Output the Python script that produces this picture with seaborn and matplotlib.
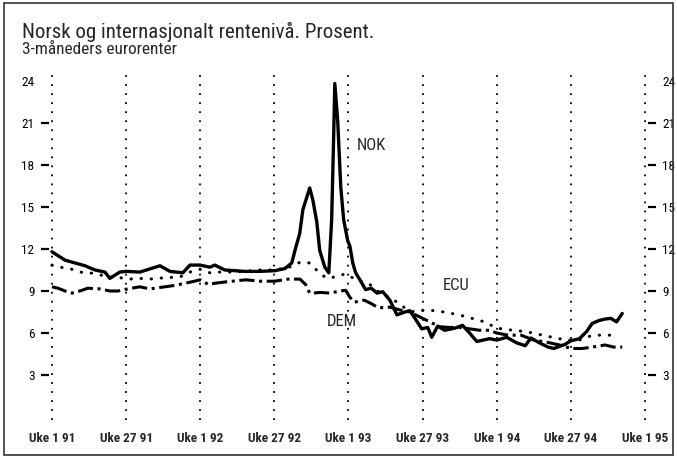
import matplotlib
matplotlib.use("Agg")
import matplotlib.pyplot as plt
import seaborn as sns
from matplotlib.patches import Rectangle

# uke-indeks fra Uke 1 91 (0) til Uke 1 95 (208)
nok_week = [0, 4.6, 8.1, 11.6, 15.1, 18.6, 20.3, 23.8, 25.9, 30.8, 37.9, 41.4, 45.9, 48.4, 51.9,
            55.4, 57.1, 60.6, 67.6, 72.9, 78.2, 81.7, 84.1, 85.5, 86.9, 88.0, 89.4, 90.4, 91.5,
            92.9, 93.9, 95.7, 97.1, 98.1, 98.8, 99.2, 100.2, 101.3, 102.3, 103.7, 104.5, 105.5,
            106.5, 108, 110, 112, 114, 116, 118.5, 121, 123.7, 125.5, 127, 129.7, 131.8, 133.2,
            135.3, 137.7, 141.3, 144, 146.5, 149, 153.5, 156, 159.5, 163, 166, 168, 171, 174,
            176, 180, 182, 185, 187.5, 189.5, 192, 194, 196, 198, 200]
nok_val = [11.8, 11.2, 11.0, 10.8, 10.5, 10.35, 9.9, 10.35, 10.4, 10.35, 10.8, 10.4, 10.3, 10.85,
           10.85, 10.7, 10.85, 10.5, 10.4, 10.4, 10.45, 10.6, 11.0, 12.1, 13.1, 14.8, 15.7, 16.35,
           15.5, 13.9, 11.9, 10.7, 10.3, 14.1, 20.0, 23.8, 21.2, 16.4, 14.1, 12.6, 12.2, 11.0,
           10.3, 9.8, 9.1, 9.2, 8.85, 8.95, 8.35, 7.3, 7.5, 7.6, 7.15, 6.3, 6.4, 5.7, 6.5, 6.2,
           6.35, 6.55, 6.0, 5.4, 5.6, 5.5, 5.7, 5.3, 5.1, 5.65, 5.3, 5.0, 4.9, 5.2, 5.45, 5.6,
           6.1, 6.7, 6.9, 7.0, 7.05, 6.8, 7.4]

dem_week = [0, 2.1, 4.6, 7, 9.8, 12.6, 16.8, 20.3, 23.1, 26.6, 30.8, 34.3, 39.6, 43.1, 46.6,
            50, 52, 55, 57, 61, 68, 73, 78, 83, 87, 89, 90.4, 91.5, 94, 97.5, 101, 103, 104.5,
            106, 109.5, 112, 114.5, 118.5, 122, 125.5, 129, 132.5, 136, 139.5, 143, 146.5, 150,
            153.5, 156, 160, 164.5, 169, 173.5, 178, 182, 186, 189.5, 194, 197, 200]
dem_val = [9.3, 9.2, 9.0, 8.85, 9.0, 9.2, 9.15, 9.0, 9.0, 9.15, 9.3, 9.15, 9.3, 9.4, 9.55,
           9.7, 9.8, 9.45, 9.55, 9.65, 9.8, 9.7, 9.7, 9.85, 9.85, 9.45, 8.85, 8.85, 8.9, 8.85,
           9.0, 9.05, 8.55, 8.2, 8.35, 8.1, 7.8, 7.85, 7.65, 7.5, 7.15, 6.8, 6.45, 6.4, 6.4,
           6.3, 6.2, 6.2, 6.0, 5.85, 5.85, 5.5, 5.35, 5.15, 4.9, 4.9, 5.0, 5.15, 5.0, 5.0]

ecu_week = [0, 2.8, 6.3, 9.8, 13.3, 16.8, 20.3, 23.8, 27.3, 30.8, 34.3, 39.6, 44.9, 48.4, 51.9,
            55.4, 57, 62.4, 67.6, 72.9, 78.2, 83.3, 87, 90.4, 92.2, 94, 95.7, 97.5, 101, 103.5,
            105, 106.5, 111, 114.5, 120, 123.7, 127, 130.7, 134, 137.7, 141.3, 144.7, 148.2,
            151.7, 156, 161.6, 166.4, 172, 175.5, 180.4, 185, 189.6, 193.2, 197]
ecu_val = [10.85, 10.7, 10.6, 10.35, 10.3, 10.15, 10.0, 9.95, 9.85, 9.9, 9.85, 9.95, 10.0, 10.35,
           10.55, 10.3, 10.35, 10.35, 10.4, 10.5, 10.5, 10.7, 11.05, 11.0, 10.6, 10.3, 10.0, 9.9,
           10.15, 10.2, 10.0, 9.8, 9.55, 8.95, 8.35, 7.8, 7.5, 7.65, 7.6, 7.5, 7.35, 7.2, 7.0,
           6.8, 6.35, 6.2, 6.1, 5.85, 5.7, 5.5, 5.5, 5.85, 5.85, 5.85]

tick_weeks = [0, 26, 52, 78, 104, 130, 156, 182, 208]
tick_labels = ["Uke 1 91", "Uke 27 91", "Uke 1 92", "Uke 27 92", "Uke 1 93",
               "Uke 27 93", "Uke 1 94", "Uke 27 94", "Uke 1 95"]
y_ticks = [3, 6, 9, 12, 15, 18, 21, 24]

sns.set_theme(style="white")
fam = ["Roboto Condensed", "Liberation Sans Narrow", "Liberation Sans", "DejaVu Sans"]
plt.rcParams["font.family"] = fam
plt.rcParams.update({
    "ytick.left": True, "ytick.right": True,
    "ytick.labelleft": True, "ytick.labelright": True,
    "ytick.major.size": 5.5, "ytick.major.width": 1.6,
    "ytick.major.pad": 5, "ytick.color": "black", "ytick.direction": "out",
    "xtick.bottom": False, "xtick.major.size": 0, "xtick.major.pad": 9,
})

fig = plt.figure(figsize=(6.77, 4.58), dpi=100)
ax = fig.add_axes([0.0725, 0.083, 0.8845, 0.753])

sns.lineplot(x=nok_week, y=nok_val, ax=ax, color="black", lw=2.4, sort=False)
sns.lineplot(x=dem_week, y=dem_val, ax=ax, color="black", lw=2.2, sort=False,
             linestyle=(0, (5, 1.5, 1, 1.5)))
sns.lineplot(x=ecu_week, y=ecu_val, ax=ax, color="black", lw=2.2, sort=False,
             linestyle=(0, (0.1, 3.2)), dash_capstyle="round")

ax.set_xlim(-1, 209)
ax.set_ylim(-0.2, 24.4)
ax.set_xticks(tick_weeks)
ax.set_xticklabels(tick_labels, fontweight="bold", fontsize=9.5)
ax.set_yticks(y_ticks)
ax.set_yticklabels([str(v) for v in y_ticks], fontsize=9.5)
ax.grid(axis="x", color="black", linestyle=(0, (1, 4)), lw=1.3)
ax.grid(axis="y", visible=False)
for s in ax.spines.values():
    s.set_visible(False)
ax.set_xlabel("")
ax.set_ylabel("")

# ingen tickstrek ved 24
for t in ax.yaxis.get_major_ticks():
    if t.get_loc() == 24:
        t.tick1line.set_visible(False)
        t.tick2line.set_visible(False)

ax.text(106.9, 19.4, "NOK", fontsize=12, va="center", ha="left")
ax.text(137, 9.4, "ECU", fontsize=12, va="center", ha="left")
ax.text(96.4, 6.8, "DEM", fontsize=12, va="center", ha="left")

fig.text(22 / 677, 1 - 38 / 458, "Norsk og internasjonalt rentenivå. Prosent.",
         fontsize=15, va="baseline", ha="left")
fig.text(22 / 677, 1 - 54 / 458, "3-måneders eurorenter", fontsize=12.4, va="baseline", ha="left")

fig.patches.append(Rectangle((4 / 677, 3 / 458), 669 / 677, 452 / 458, transform=fig.transFigure,
                             fill=False, lw=1.2, ec="#333333"))

fig.savefig("out.png", dpi=100)
